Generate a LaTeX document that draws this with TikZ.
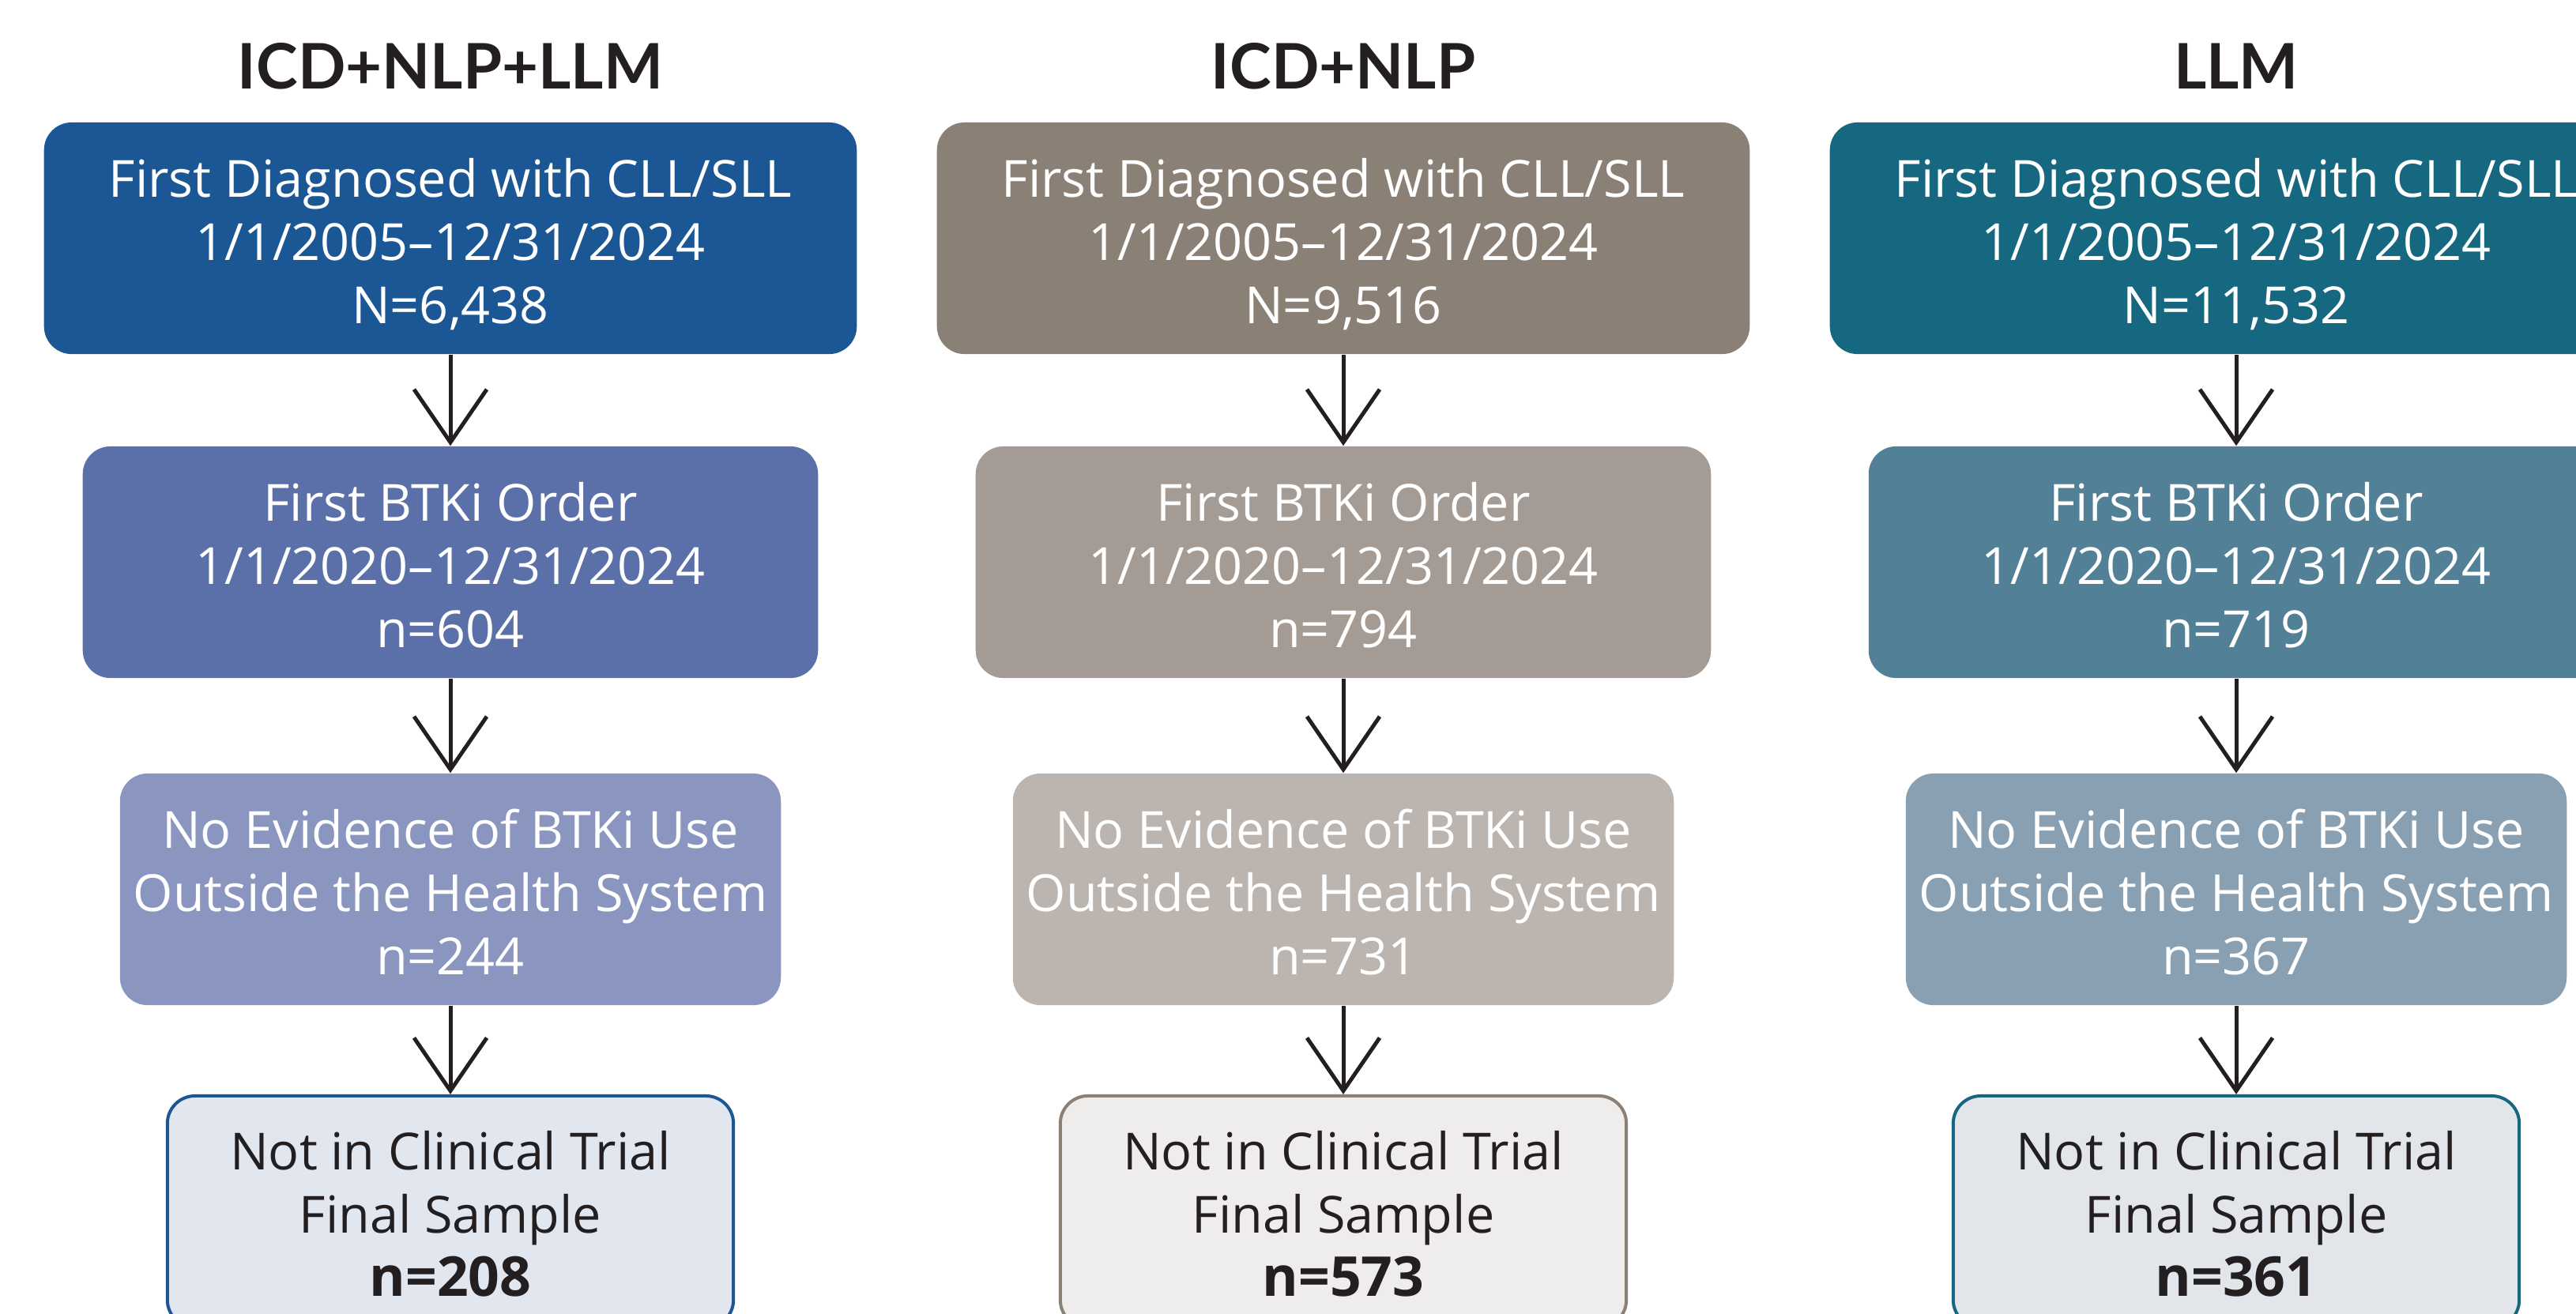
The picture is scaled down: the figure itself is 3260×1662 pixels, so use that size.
\documentclass[tikz,border=0pt]{standalone}
\usepackage{fontspec}
\setmainfont{Open Sans}
\newfontfamily\headfont{Lato}
\usetikzlibrary{arrows.meta}

% column palettes
\definecolor{ink}{RGB}{35,31,32}
\definecolor{blueA}{RGB}{28,87,149}
\definecolor{blueB}{RGB}{91,112,168}
\definecolor{blueC}{RGB}{138,150,191}
\definecolor{blueD}{RGB}{226,230,239}
\definecolor{greyA}{RGB}{138,128,118}
\definecolor{greyB}{RGB}{164,155,149}
\definecolor{greyC}{RGB}{188,181,175}
\definecolor{greyD}{RGB}{238,237,235}
\definecolor{tealA}{RGB}{22,103,128}
\definecolor{tealB}{RGB}{82,128,150}
\definecolor{tealC}{RGB}{136,160,178}
\definecolor{tealD}{RGB}{226,230,235}

% a box with three centred lines, each set on its own baseline
\newcommand{\stage}[7]{%
  \node[#2] (#1) at (#4) {};
  \node[rowtext,#3] (#1-a) at ([yshift=-0.95cm]#1.north) {#5};
  \node[rowtext,#3] (#1-b) at ([yshift=-1.75cm]#1.north) {#6};
  \node[rowtext,#3] (#1-c) at ([yshift=-2.55cm]#1.north) {#7};
}
% bold count in the final boxes
\newcommand{\finalcount}[1]{{\fontsize{19.8pt}{22.8pt}\selectfont\bfseries #1}}

\begin{document}
\begin{tikzpicture}[
  x=0.01cm, y=-0.01cm,
  stagebox/.style={rounded corners=0.35cm, minimum height=2.93cm, inner sep=0pt, draw=none},
  wideA/.style={stagebox, minimum width=10.28cm},
  wideB/.style={stagebox, minimum width=9.30cm},
  wideC/.style={stagebox, minimum width=8.36cm},
  finalbox/.style={stagebox, minimum width=7.16cm, line width=0.04cm},
  rowtext/.style={anchor=base, inner sep=0pt, font=\fontsize{18.4pt}{22.8pt}\selectfont},
  light/.style={text=white},
  dark/.style={text=ink},
  heading/.style={anchor=base, inner sep=0pt, text=ink, font=\headfont\fontsize{22.6pt}{27pt}\selectfont\bfseries},
  flow/.style={draw=ink, line width=0.05cm,
    -{Straight Barb[length=0.67cm, width=0.92cm, line join=miter, line cap=butt]}},
]
\useasboundingbox (0,0) rectangle (3260,1662);
\clip (0,0) rectangle (3260,1662);

% column headings
\node[heading] (h1) at (570,112) {ICD+NLP+LLM};
\node[heading] (h2) at (1700,112) {ICD+NLP};
\node[heading] (h3) at (2830,112) {LLM};

% ICD+NLP+LLM
\stage{a1}{wideA, fill=blueA}{light}{570,301.5}{First Diagnosed with CLL/SLL}{1/1/2005–12/31/2024}{N=6,438}
\stage{a2}{wideB, fill=blueB}{light}{570,711.5}{First BTKi Order}{1/1/2020–12/31/2024}{n=604}
\stage{a3}{wideC, fill=blueC}{light}{570,1125.5}{No Evidence of BTKi Use}{Outside the Health System}{n=244}
\stage{a4}{finalbox, fill=blueD, draw=blueA}{dark}{570,1533.5}{Not in Clinical Trial}{Final Sample}{\finalcount{n=208}}

% ICD+NLP
\stage{b1}{wideA, fill=greyA}{light}{1700,301.5}{First Diagnosed with CLL/SLL}{1/1/2005–12/31/2024}{N=9,516}
\stage{b2}{wideB, fill=greyB}{light}{1700,711.5}{First BTKi Order}{1/1/2020–12/31/2024}{n=794}
\stage{b3}{wideC, fill=greyC}{light}{1700,1125.5}{No Evidence of BTKi Use}{Outside the Health System}{n=731}
\stage{b4}{finalbox, fill=greyD, draw=greyA}{dark}{1700,1533.5}{Not in Clinical Trial}{Final Sample}{\finalcount{n=573}}

% LLM
\stage{c1}{wideA, fill=tealA}{light}{2830,301.5}{First Diagnosed with CLL/SLL}{1/1/2005–12/31/2024}{N=11,532}
\stage{c2}{wideB, fill=tealB}{light}{2830,711.5}{First BTKi Order}{1/1/2020–12/31/2024}{n=719}
\stage{c3}{wideC, fill=tealC}{light}{2830,1125.5}{No Evidence of BTKi Use}{Outside the Health System}{n=367}
\stage{c4}{finalbox, fill=tealD, draw=tealA}{dark}{2830,1533.5}{Not in Clinical Trial}{Final Sample}{\finalcount{n=361}}

% connectors
\foreach \col in {a,b,c}{
  \draw[flow] (\col1.south) -- (\col2.north);
  \draw[flow] (\col2.south) -- (\col3.north);
  \draw[flow] (\col3.south) -- (\col4.north);
}
\end{tikzpicture}
\end{document}
